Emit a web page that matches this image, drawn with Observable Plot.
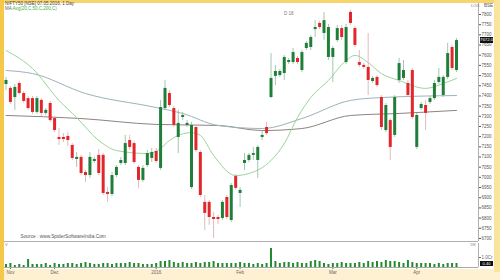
<!DOCTYPE html>
<html><head><meta charset="utf-8">
<script src="https://cdn.jsdelivr.net/npm/d3@7"></script>
<script src="https://cdn.jsdelivr.net/npm/@observablehq/plot@0.6"></script>
<style>
body{margin:0;width:500px;height:280px;overflow:hidden;position:relative;background:#fdf1d2;font-family:"Liberation Sans",Arial,sans-serif;}
.abs{position:absolute;white-space:nowrap;line-height:1}
</style></head><body>
<div class="abs" style="left:0;top:0;width:500px;height:3px;background:#f8d46c"></div>
<div class="abs" style="left:0;top:0;width:4px;height:280px;background:#f6c84a"></div>
<div class="abs" style="left:494px;top:0;width:6px;height:272px;background:#fae39c"></div>
<div class="abs" style="left:4px;top:3px;width:490px;height:266px;background:#fff"></div>
<div id="price" class="abs" style="left:4px;top:3px"></div>
<div id="vol" class="abs" style="left:4px;top:242px"></div>
<div class="abs" style="left:5px;top:2px;font-size:4.5px;color:#444">NIFTY50 [NSE] 07.05.2016, 1 Day</div>
<div class="abs" style="left:5px;top:7px;font-size:4.5px;color:#666">MA <span style="color:#3cb043">Avg(20,C,50,C,200,C)</span></div>
<div class="abs" style="left:284px;top:12px;font-size:4.5px;color:#777">D 18</div>
<div class="abs" style="left:5px;top:243px;font-size:4px;color:#888">V</div>
<div class="abs" style="left:470px;top:243px;font-size:4px;color:#888">1M</div>
<div class="abs" style="left:471px;top:4px;font-size:4px;color:#777">LOG</div>
<div class="abs" style="left:484px;top:4px;font-size:4.5px;color:#555">BSE</div>
<script>
// ---- data ----
const opens  = [7456,7437,7392,7461,7412,7387,7387,7319,7378,7314,7363,7289,7196,7196,7201,7157,7088,7098,7024,7009,7078,7108,7108,6926,6916,7009,7068,7068,7181,7166,7049,6985,7058,7093,7127,7044,7338,7412,7338,7196,7294,7255,6950,7245,7122,6877,6877,6803,6803,6798,6901,6788,7004,6921,7068,7083,7108,7083,7196,7245,7392,7496,7500,7510,7564,7564,7584,7525,7633,7638,7726,7756,7707,7589,7589,7672,7731,7564,7810,7731,7564,7550,7540,7471,7491,7392,7230,7279,7206,7476,7486,7461,7525,7147,7338,7353,7368,7387,7466,7402,7491,7638,7525];
const highs  = [7491,7446,7456,7471,7422,7397,7397,7397,7387,7338,7373,7299,7240,7215,7220,7166,7122,7108,7034,7122,7098,7137,7117,6950,7024,7058,7098,7206,7206,7176,7058,7058,7132,7142,7142,7378,7476,7427,7348,7329,7319,7279,7270,7255,7132,6911,6887,6828,6813,6887,6911,6970,7014,6950,7117,7117,7147,7157,7225,7270,7608,7550,7530,7599,7584,7633,7594,7623,7667,7697,7770,7766,7810,7751,7643,7746,7746,7751,7820,7741,7623,7559,7707,7496,7500,7402,7363,7289,7402,7584,7574,7476,7535,7314,7368,7378,7397,7476,7535,7500,7658,7648,7682];
const lows   = [7427,7358,7329,7402,7363,7329,7309,7309,7299,7304,7270,7220,7157,7171,7152,7083,7049,7009,6975,6995,7068,7009,6911,6877,6906,6999,7058,7058,7132,7063,6946,6975,7049,7073,7068,7034,7329,7343,7245,7117,7279,7245,6941,7122,6901,6739,6764,6700,6769,6788,6793,6779,6936,6852,7034,7073,7083,6995,7181,7206,7387,7451,7491,7476,7554,7554,7554,7515,7623,7623,7687,7726,7672,7574,7466,7663,7672,7554,7746,7638,7540,7530,7402,7461,7442,7230,7220,7083,7196,7461,7476,7392,7284,7137,7329,7230,7358,7378,7456,7392,7481,7525,7515];
const closes = [7476,7368,7442,7412,7373,7338,7319,7387,7314,7329,7279,7230,7186,7186,7181,7093,7098,7019,7009,7098,7088,7019,6921,6916,7009,7049,7083,7166,7147,7073,6985,7044,7117,7122,7078,7343,7437,7353,7255,7265,7304,7265,7255,7132,6911,6823,6803,6793,6793,6877,6803,6960,6946,6936,7083,7108,7117,7147,7206,7215,7486,7520,7520,7589,7574,7613,7564,7613,7658,7687,7736,7736,7770,7736,7633,7731,7687,7736,7756,7648,7550,7540,7476,7486,7451,7245,7353,7147,7392,7559,7525,7402,7294,7304,7358,7314,7387,7461,7491,7491,7608,7535,7672];
const volumes = [30,40,20,30,20,80,30,30,30,40,20,40,30,
                 30,40,40,30,40,50,40,30,30,40,40,30,40,
                 40,40,50,40,40,30,30,30,40,60,60,70,50,
                 40,50,40,40,50,40,50,50,60,40,40,40,40,
                 40,50,40,40,30,40,30,40,190,60,40,50,50,
                 40,50,40,40,60,70,60,40,30,40,40,50,40,
                 40,40,50,40,60,50,60,50,70,60,60,50,40,
                 70,50,40,40,40,40,30,40,30,40,40,40];
// moving averages read at sample candles
const ma20Idx  = [0,6,12,16,21,25,32,35,37,42,44,47,52,55,60,63,66,69,73,77,79,82,85,89,95,99,102];
const ma20Val  = [7623,7535,7378,7294,7181,7132,7117,7142,7181,7220,7206,7108,7009,7019,7083,7166,7294,7392,7476,7574,7599,7564,7510,7476,7437,7461,7486];
const ma50Idx  = [0,6,18,34,40,48,58,67,78,85,102];
const ma50Val  = [7525,7510,7412,7343,7314,7255,7240,7289,7378,7392,7402];
const ma200Idx = [0,17,34,48,58,67,78,89,102];
const ma200Val = [7304,7289,7260,7255,7230,7240,7304,7314,7329];
const priceTicks = [6700,6750,6800,6850,6900,6950,7000,7050,7100,7150,7200,7250,7300,7350,7400,7450,7500,7550,7600,7650,7700,7750,7800];
const xTickIdx = [1,11,34,53,74,93];
const xTickLabels = ["Nov","Dec","2016","Feb","Mar","Apr"];
const sourceText = "Source : www.SpiderSoftwareIndia.Com";

// ---- build ----
const candles = opens.map((o,i)=>({i, open:o, high:highs[i], low:lows[i], close:closes[i], vol:volumes[i]}));
const up = candles.filter(d=>d.close>=d.open), down = candles.filter(d=>d.close<d.open);
const mk = (idx,val)=>idx.map((i,k)=>({i, v:val[k]}));
const xDomain = [-0.34, 106.98];
const yDomain = [6685, 7854];
const font = "Liberation Sans, Arial, sans-serif";

const price = Plot.plot({
  width: 490, height: 238, marginLeft: 0, marginTop: 0, marginBottom: 0, marginRight: 16,
  style: {background: "transparent", fontSize: "4.5px", fontFamily: font, color: "#555", overflow: "visible"},
  x: {domain: xDomain, axis: null},
  y: {domain: yDomain, axis: "right", ticks: priceTicks, tickSize: 2, tickPadding: 1, tickFormat: d => String(d), label: null},
  marks: [
    Plot.ruleY([yDomain[0]], {stroke: "#b0b0b0", strokeWidth: 1}),
    Plot.ruleX([xDomain[1]], {stroke: "#9a9a9a", strokeWidth: 0.8}),
    Plot.line(mk(ma200Idx, ma200Val), {x: "i", y: "v", stroke: "#8f8282", strokeWidth: 1, curve: "monotone-x"}),
    Plot.line(mk(ma50Idx, ma50Val), {x: "i", y: "v", stroke: "#9db3b9", strokeWidth: 1, curve: "monotone-x"}),
    Plot.line(mk(ma20Idx, ma20Val), {x: "i", y: "v", stroke: "#9bd49b", strokeWidth: 1, curve: "monotone-x"}),
    Plot.ruleX(up, {x: "i", y1: "low", y2: "high", stroke: "#8fb89a", strokeWidth: 0.8}),
    Plot.ruleX(down, {x: "i", y1: "low", y2: "high", stroke: "#d9a9a9", strokeWidth: 0.8}),
    Plot.ruleX(up, {x: "i", y1: "open", y2: "close", stroke: "#1f7f3a", strokeWidth: 3}),
    Plot.ruleX(down, {x: "i", y1: "open", y2: "close", stroke: "#e3262b", strokeWidth: 3}),
    Plot.text([sourceText], {frameAnchor: "bottom-left", dx: 16, dy: -3.5, fill: "#555", fontSize: 4.8})
  ]
});
document.getElementById("price").appendChild(price);

const vol = Plot.plot({
  width: 490, height: 36, marginLeft: 0, marginTop: 1, marginBottom: 11, marginRight: 16,
  style: {background: "transparent", fontSize: "4.5px", fontFamily: font, color: "#666", overflow: "visible"},
  x: {domain: xDomain, ticks: xTickIdx, tickFormat: (d,k) => xTickLabels[xTickIdx.indexOf(d)], tickSize: 2, tickPadding: 1, label: null},
  y: {domain: [0, 240], axis: "right", ticks: [100], tickFormat: () => "1.0Cr", tickSize: 2, tickPadding: 1, label: null},
  marks: [
    Plot.ruleX(candles, {x: "i", y1: 0, y2: "vol", stroke: "#238b2f", strokeWidth: 2}),
    Plot.ruleY([0], {stroke: "#a8a8a8", strokeWidth: 1}),
    Plot.ruleX([xDomain[1]], {y1: 0, y2: 240, stroke: "#9a9a9a", strokeWidth: 0.8})
  ]
});
document.getElementById("vol").appendChild(vol);

// current price / volume boxes placed with the library's scales
const last = candles[candles.length-1];
const py = 3 + price.scale("y").apply(last.close);
const box = document.createElement("div");
box.className = "abs";
box.style.cssText = `left:480px;top:${py-3}px;width:13px;height:6px;background:#111;color:#fff;font-size:4.3px;line-height:6px;text-align:center`;
box.textContent = last.close.toFixed(1);
document.body.appendChild(box);
const vy = 242 + vol.scale("y").apply(last.vol);
const vbox = document.createElement("div");
vbox.className = "abs";
vbox.style.cssText = `left:480px;top:${vy-2}px;width:13px;height:5px;background:#111;color:#fff;font-size:4px;line-height:5px;text-align:center`;
vbox.textContent = (last.vol/100).toFixed(2);
document.body.appendChild(vbox);
</script>
</body></html>
